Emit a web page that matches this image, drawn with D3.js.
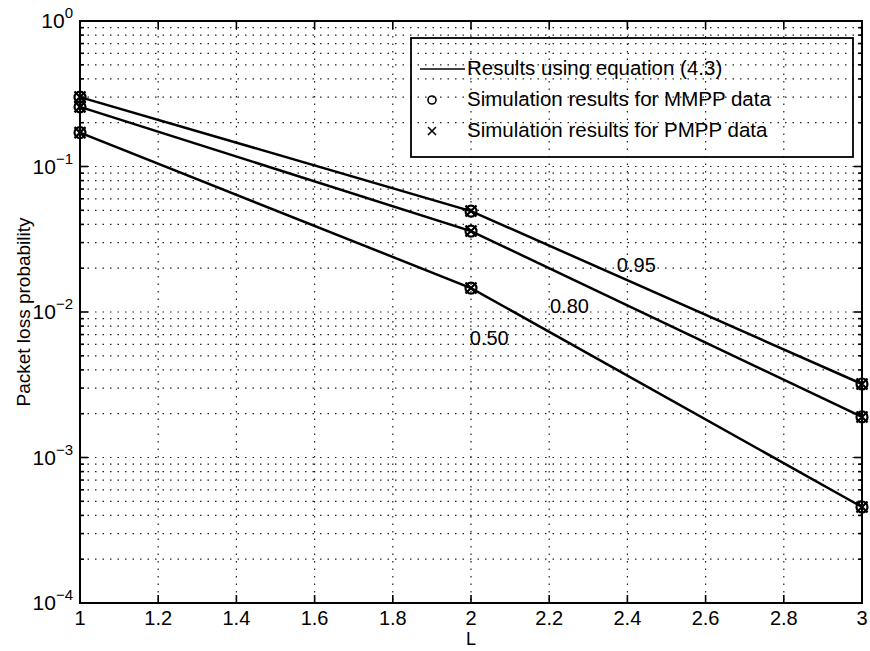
<!DOCTYPE html>
<html><head><meta charset="utf-8">
<script src="https://cdn.jsdelivr.net/npm/d3@7"></script>
<style>body{margin:0;background:#fff}svg{display:block}text{font-family:"Liberation Sans",Arial,Helvetica,sans-serif;fill:#000}</style>
</head><body><svg id="c" width="870" height="651"></svg>
<script>
// data
const L = [1, 2, 3];
const rho95 = [0.30, 0.0494, 0.0032];
const rho80 = [0.257, 0.0360, 0.0019];
const rho50 = [0.171, 0.0146, 0.000457];
const xTicks = [1, 1.2, 1.4, 1.6, 1.8, 2, 2.2, 2.4, 2.6, 2.8, 3];
const yExponents = [0, -1, -2, -3, -4];
const legendLabels = ["Results using equation (4.3)", "Simulation results for MMPP data", "Simulation results for PMPP data"];
const annotations = [{label: "0.95", L: 2.373, v: 0.0188}, {label: "0.80", L: 2.202, v: 0.00985}, {label: "0.50", L: 1.997, v: 0.00593}];

const W = 870, H = 651;
const m = {left: 80, right: 862, top: 21, bottom: 603};
const svg = d3.select("#c");
svg.append("rect").attr("width", W).attr("height", H).attr("fill", "#fff");

const x = d3.scaleLinear().domain([1, 3]).range([m.left, m.right]);
const y = d3.scaleLog().domain([1e-4, 1]).range([m.bottom, m.top]);

// grid
const g = svg.append("g");
const minorVals = [];
for (let e = -4; e < 0; e++) for (let k = 1; k <= 9; k++) minorVals.push(k * Math.pow(10, e));
g.selectAll(".hg").data(minorVals.filter(v => v > 1e-4)).enter().append("line")
  .attr("x1", m.left).attr("x2", m.right).attr("y1", d => y(d)).attr("y2", d => y(d))
  .attr("stroke", "#222").attr("stroke-width", 1.2).attr("stroke-dasharray", "1.5,6");
g.selectAll(".vg").data(xTicks.slice(1, -1)).enter().append("line")
  .attr("y1", m.top).attr("y2", m.bottom).attr("x1", d => x(d)).attr("x2", d => x(d))
  .attr("stroke", "#222").attr("stroke-width", 1.2).attr("stroke-dasharray", "1.5,6");

// ticks (inside, all four sides)
const t = svg.append("g").attr("stroke", "#000").attr("stroke-width", 1.6);
xTicks.forEach(v => {
  t.append("line").attr("x1", x(v)).attr("x2", x(v)).attr("y1", m.bottom).attr("y2", m.bottom - 8);
  t.append("line").attr("x1", x(v)).attr("x2", x(v)).attr("y1", m.top).attr("y2", m.top + 8);
});
minorVals.concat([1]).forEach(v => {
  const major = Math.abs(Math.log10(v) - Math.round(Math.log10(v))) < 1e-9;
  const len = major ? 8 : 4;
  t.append("line").attr("x1", m.left).attr("x2", m.left + len).attr("y1", y(v)).attr("y2", y(v));
  t.append("line").attr("x1", m.right).attr("x2", m.right - len).attr("y1", y(v)).attr("y2", y(v));
});

// axes box
svg.append("rect").attr("x", m.left).attr("y", m.top).attr("width", m.right - m.left).attr("height", m.bottom - m.top)
  .attr("fill", "none").attr("stroke", "#000").attr("stroke-width", 2);

// tick labels
svg.selectAll(".xl").data(xTicks).enter().append("text")
  .attr("x", d => x(d)).attr("y", 625).attr("text-anchor", "middle").attr("font-size", 20)
  .text(d => String(+d.toFixed(1)));
yExponents.forEach(e => {
  const tx = svg.append("text").attr("x", 73).attr("y", y(Math.pow(10, e)) + 7).attr("text-anchor", "end").attr("font-size", 21);
  tx.append("tspan").text("10");
  tx.append("tspan").attr("font-size", 15).attr("dy", -10).text(e === 0 ? "0" : "\u2212" + (-e));
});

// axis labels
svg.append("text").attr("x", (m.left + m.right) / 2).attr("y", 645).attr("text-anchor", "middle").attr("font-size", 18).text("L");
svg.append("text").attr("transform", `translate(30,${(m.top + m.bottom) / 2}) rotate(-90)`).attr("text-anchor", "middle").attr("font-size", 19).text("Packet loss probability");

// lines
const line = d3.line().x((d, i) => x(L[i])).y(d => y(d));
const allSeries = [rho95, rho80, rho50];
allSeries.forEach(s => {
  svg.append("path").attr("d", line(s)).attr("fill", "none").attr("stroke", "#000").attr("stroke-width", 2.5);
});
// markers: circle + x overlay
function circleMark(sel, cx, cy) {
  sel.append("circle").attr("cx", cx).attr("cy", cy).attr("r", 5.5).attr("fill", "none").attr("stroke", "#000").attr("stroke-width", 2.2);
}
function crossMark(sel, cx, cy) {
  const s = 5.5;
  sel.append("path").attr("d", `M${cx - s},${cy - s}L${cx + s},${cy + s}M${cx - s},${cy + s}L${cx + s},${cy - s}`)
    .attr("stroke", "#000").attr("stroke-width", 2.2);
}
allSeries.forEach(s => s.forEach((v, i) => { circleMark(svg, x(L[i]), y(v)); crossMark(svg, x(L[i]), y(v)); }));

// annotations
annotations.forEach(a => {
  svg.append("text").attr("x", x(a.L)).attr("y", y(a.v)).attr("font-size", 20).text(a.label);
});

// legend (transparent)
const lg = svg.append("g");
lg.append("rect").attr("x", 411).attr("y", 38).attr("width", 442).attr("height", 119).attr("fill", "none").attr("stroke", "#000").attr("stroke-width", 1.8);
const ly = [75, 106, 137];
legendLabels.forEach((lab, i) => {
  lg.append("text").attr("x", 467).attr("y", ly[i]).attr("font-size", 20.5).text(lab);
});
lg.append("line").attr("x1", 420).attr("x2", 465).attr("y1", ly[0] - 6).attr("y2", ly[0] - 6).attr("stroke", "#000").attr("stroke-width", 1.6);
lg.append("circle").attr("cx", 432).attr("cy", ly[1] - 6).attr("r", 4).attr("fill", "none").attr("stroke", "#000").attr("stroke-width", 1.6);
lg.append("path").attr("d", `M428,${ly[2] - 10}L436,${ly[2] - 2}M428,${ly[2] - 2}L436,${ly[2] - 10}`).attr("stroke", "#000").attr("stroke-width", 1.6);
</script></body></html>
